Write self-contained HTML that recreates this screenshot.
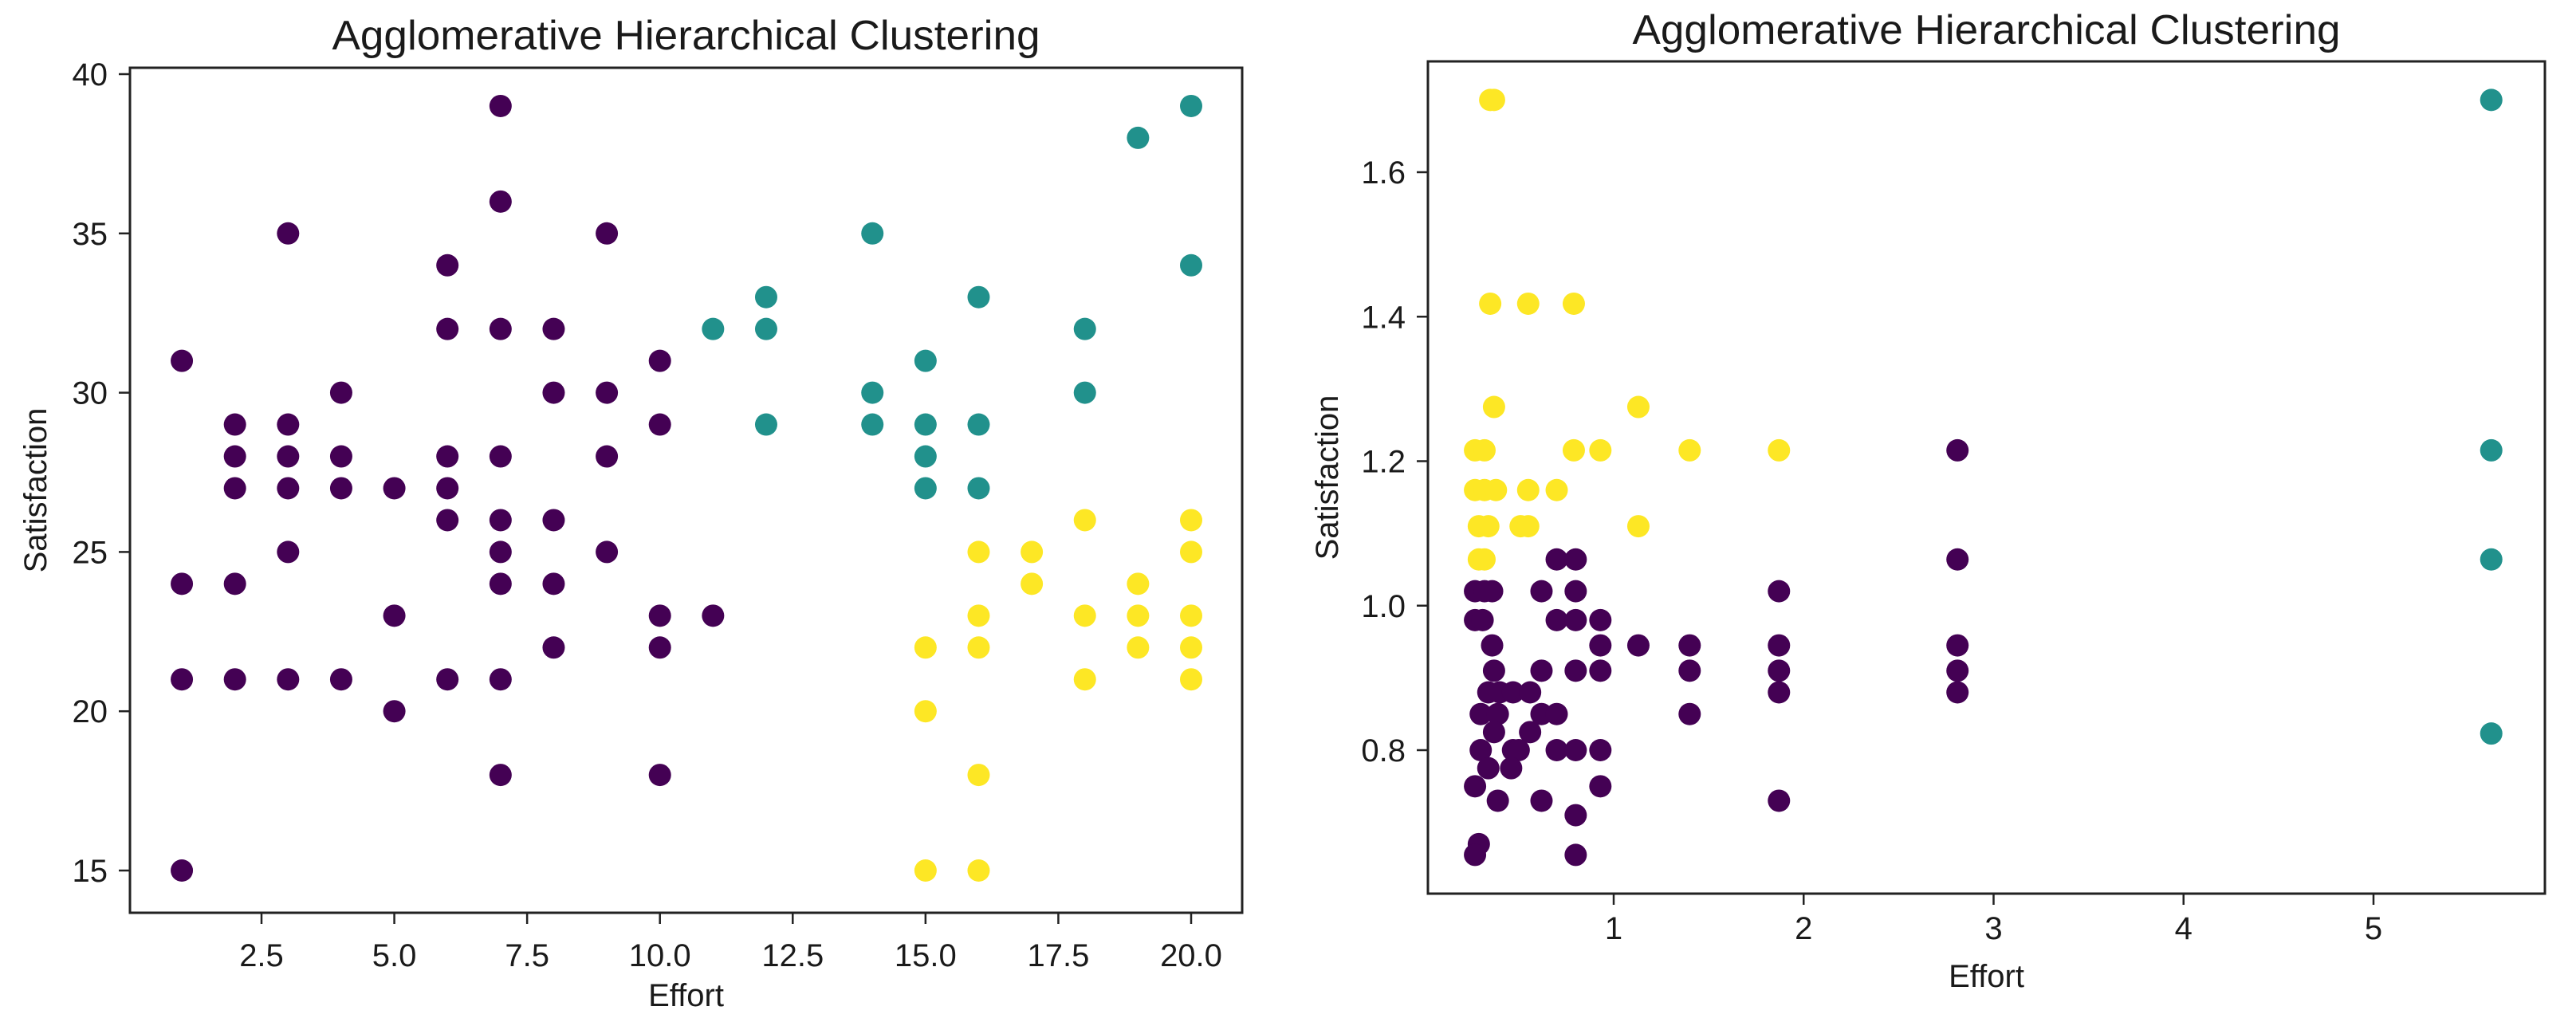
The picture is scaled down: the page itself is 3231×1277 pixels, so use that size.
<!DOCTYPE html>
<html><head><meta charset="utf-8"><style>body{margin:0;background:#fff}svg{display:block}text{font-family:"Liberation Sans",sans-serif;fill:#1a1a1a}</style></head>
<body>
<svg id="c" width="3231" height="1277"></svg>
<script>
const leftPurpleX=[1,1,1,1,2,2,2,2,2,3,3,3,3,3,3,4,4,4,4,5,5,5,6,6,6,6,6,6,7,7,7,7,7,7,7,7,7,8,8,8,8,8,9,9,9,9,10,10,10,10,10,11];
const leftPurpleY=[31,24,21,15,29,28,27,24,21,35,29,28,27,25,21,30,28,27,21,27,23,20,34,32,28,27,26,21,39,36,32,28,26,25,24,21,18,32,30,26,24,22,35,30,28,25,31,29,23,22,18,23];
const leftTealX=[11,12,12,12,14,14,14,15,15,15,15,16,16,16,18,18,19,20,20];
const leftTealY=[32,33,32,29,35,30,29,31,29,28,27,33,29,27,32,30,38,39,34];
const leftYellowX=[15,15,15,16,16,16,16,16,17,17,18,18,18,19,19,19,20,20,20,20,20];
const leftYellowY=[22,20,15,25,23,22,18,15,25,24,26,23,21,24,23,22,26,25,23,22,21];
const leftXTicks=[2.5,5.0,7.5,10.0,12.5,15.0,17.5,20.0];
const leftYTicks=[15,20,25,30,35,40];
const rightYellowX=[0.35,0.37,0.35,0.55,0.79,0.37,1.13,0.27,0.32,0.79,0.93,1.40,1.87,0.27,0.32,0.38,0.55,0.70,0.29,0.34,0.51,0.55,1.13,0.29,0.32];
const rightYellowY=[1.70,1.70,1.418,1.418,1.418,1.275,1.275,1.215,1.215,1.215,1.215,1.215,1.215,1.16,1.16,1.16,1.16,1.16,1.11,1.11,1.11,1.11,1.11,1.064,1.064];
const rightTealX=[5.62,5.62,5.62,5.62];
const rightTealY=[1.70,1.215,1.064,0.823];
const rightPurpleX=[2.81,0.70,0.80,2.81,0.27,0.32,0.36,0.62,0.80,1.87,0.27,0.31,0.70,0.80,0.93,0.36,0.93,1.13,1.40,1.87,2.81,0.37,0.62,0.80,0.93,1.40,1.87,2.81,0.34,0.40,0.47,0.56,1.87,2.81,0.30,0.39,0.62,0.70,1.40,0.37,0.56,0.30,0.47,0.50,0.70,0.80,0.93,0.34,0.46,0.27,0.93,0.39,0.62,1.87,0.80,0.29,0.27,0.80];
const rightPurpleY=[1.215,1.064,1.064,1.064,1.02,1.02,1.02,1.02,1.02,1.02,0.98,0.98,0.98,0.98,0.98,0.945,0.945,0.945,0.945,0.945,0.945,0.91,0.91,0.91,0.91,0.91,0.91,0.91,0.88,0.88,0.88,0.88,0.88,0.88,0.85,0.85,0.85,0.85,0.85,0.825,0.825,0.80,0.80,0.80,0.80,0.80,0.80,0.775,0.775,0.75,0.75,0.73,0.73,0.73,0.71,0.67,0.655,0.655];
const rightXTicks=[1,2,3,4,5];
const rightYTicks=[0.8,1.0,1.2,1.4,1.6];

const svg=document.getElementById('c');
const NS='http://www.w3.org/2000/svg';
function mk(tag,attrs,parent){const e=document.createElementNS(NS,tag);for(const k in attrs)e.setAttribute(k,attrs[k]);(parent||svg).appendChild(e);return e;}

function panel(p){
  const g=mk('g',{});
  
  
  const sx=v=>p.x0+(v-p.xv0)*(p.x1-p.x0)/(p.xv1-p.xv0);
  const sy=v=>p.y0+(v-p.yv0)*(p.y1-p.y0)/(p.yv1-p.yv0);
  p.series.forEach(s=>{
    s.xs.forEach((xv,i)=>{
      const c=mk('circle',{cx:sx(xv),cy:sy(s.ys[i]),r:14,fill:s.color},g);
      
      
    });
  });
  const frame=mk('rect',{x:p.L,y:p.T,width:p.R-p.L,height:p.B-p.T,fill:'none',stroke:'#222','stroke-width':3},g);
  
  
  p.xt.forEach(v=>{
    const x=sx(v);
    mk('line',{x1:x,x2:x,y1:p.B,y2:p.B+14,stroke:'#222','stroke-width':2.5},g);
    const t=mk('text',{x:x,y:p.xtb,'font-size':40,'text-anchor':'middle'},g);
    t.textContent=p.xfmt(v);
    
    
  });
  p.yt.forEach(v=>{
    const y=sy(v);
    mk('line',{x1:p.L-14,x2:p.L,y1:y,y2:y,stroke:'#222','stroke-width':2.5},g);
    const t=mk('text',{x:p.L-28,y:y+14,'font-size':40,'text-anchor':'end'},g);
    t.textContent=p.yfmt(v);
    
    
  });
  const ti=mk('text',{x:(p.L+p.R)/2,y:p.tb,'font-size':52,'text-anchor':'middle',textLength:888,lengthAdjust:'spacingAndGlyphs'},g);
  ti.textContent='Agglomerative Hierarchical Clustering';
  
  
  const xl=mk('text',{x:(p.L+p.R)/2,y:p.xlb,'font-size':40,'text-anchor':'middle'},g);
  xl.textContent='Effort';
  
  
  const yc=(p.T+p.B)/2;
  const yl=mk('text',{x:p.ylx,y:yc,'font-size':40,'text-anchor':'middle',transform:`rotate(-90 ${p.ylx} ${yc})`},g);
  yl.textContent='Satisfaction';
  
  
}

panel({name:'left-scatter-panel',L:163,R:1558,T:85,B:1145,x0:328,x1:1494,xv0:2.5,xv1:20,y0:1092,y1:93,yv0:15,yv1:40,
  xt:leftXTicks,yt:leftYTicks,xfmt:v=>v.toFixed(1),yfmt:v=>String(v),ylx:58,tb:62,xtb:1212,xlb:1262,
  series:[{name:'cluster-purple',xs:leftPurpleX,ys:leftPurpleY,color:'#440154'},
          {name:'cluster-teal',xs:leftTealX,ys:leftTealY,color:'#21918c'},
          {name:'cluster-yellow',xs:leftYellowX,ys:leftYellowY,color:'#fde725'}]});

panel({name:'right-scatter-panel',L:1791,R:3192,T:77,B:1121,x0:2024,x1:2977,xv0:1,xv1:5,y0:941,y1:216,yv0:0.8,yv1:1.6,
  xt:rightXTicks,yt:rightYTicks,xfmt:v=>String(v),yfmt:v=>v.toFixed(1),ylx:1678,tb:55,xtb:1178,xlb:1238,
  series:[{name:'cluster-purple',xs:rightPurpleX,ys:rightPurpleY,color:'#440154'},
          {name:'cluster-teal',xs:rightTealX,ys:rightTealY,color:'#21918c'},
          {name:'cluster-yellow',xs:rightYellowX,ys:rightYellowY,color:'#fde725'}]});
</script>
</body></html>
